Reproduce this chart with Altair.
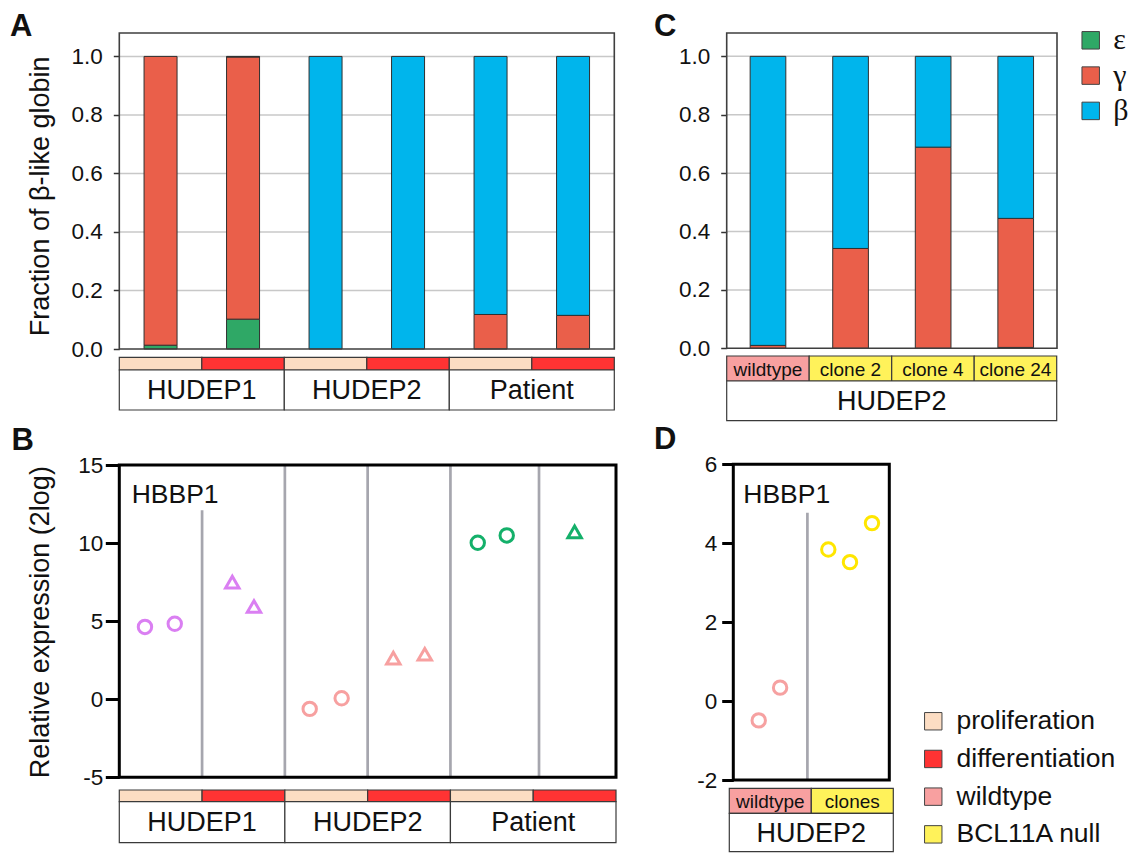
import altair as alt
import pandas as pd

# ------------------------------------------------------------------ data
globins = ["ε", "γ", "β"]
globin_colors = ["#2FA866", "#EA5F4A", "#00B5EC"]

cond_labels = ["proliferation", "differentiation", "wildtype", "BCL11A null"]
cond_colors = ["#FCDDC3", "#FF3333", "#F8A0A0", "#FFF25A"]

# Panel A : fraction of beta-like globin
a_samples = ["HUDEP1 prolif", "HUDEP1 diff", "HUDEP2 prolif", "HUDEP2 diff",
             "Patient prolif", "Patient diff"]
a_cond_of = ["proliferation", "differentiation"] * 3
a_groups = ["HUDEP1", "HUDEP2", "Patient"]
a_eps = [0.013, 0.102, 0.0, 0.0, 0.0, 0.0]
a_gam = [0.987, 0.896, 0.0, 0.0, 0.118, 0.115]
a_bet = [0.0, 0.002, 1.0, 1.0, 0.882, 0.885]
frac_ticks = [0.0, 0.2, 0.4, 0.6, 0.8, 1.0]
frac_grid = [0.2, 0.4, 0.6, 0.8, 1.0]

# Panel C : HUDEP2 clones
c_samples = ["wildtype", "clone 2", "clone 4", "clone 24"]
c_geno_of = ["wildtype", "BCL11A null", "BCL11A null", "BCL11A null"]
c_eps = [0.0, 0.0, 0.0, 0.003]
c_gam = [0.010, 0.342, 0.689, 0.442]
c_bet = [0.990, 0.658, 0.311, 0.555]
c_groups = ["HUDEP2"]

# Panel B : HBBP1 relative expression
b_line_colors = ["#DA7FF2", "#F7A0A0", "#14B06A"]
b_line = ["HUDEP1"] * 4 + ["HUDEP2"] * 4 + ["Patient"] * 3
b_cond = (["proliferation"] * 2 + ["differentiation"] * 2) * 2 + ["proliferation"] * 2 + ["differentiation"]
b_pos = [0.31, 0.67, 1.365, 1.627, 2.30, 2.686, 3.31, 3.69, 4.33, 4.68, 5.50]
b_expr = [4.63, 4.83, 7.50, 5.94, -0.62, 0.06, 2.63, 2.88, 10.02, 10.49, 10.72]
b_sep_pos = [1.0, 2.0, 3.0, 4.0, 5.07]
b_sep_top = [12.1, 15, 15, 15, 15]
b_ticks = [-5, 0, 5, 10, 15]

# Panel D : HBBP1 in HUDEP2 wildtype vs clones
d_geno = ["wildtype"] * 2 + ["BCL11A null"] * 3
d_pos = [0.326, 0.60, 1.218, 1.496, 1.778]
d_expr = [-0.49, 0.34, 3.84, 3.52, 4.51]
d_point_colors = ["#F6A1A1", "#FFE600"]
d_sep_pos = [0.95]
d_sep_top = [4.77]
d_ticks = [-2, 0, 2, 4, 6]
d_strip = ["wildtype", "clones"]
d_strip_geno = ["wildtype", "BCL11A null"]
d_groups = ["HUDEP2"]

# ------------------------------------------------------------------ style / geometry
FONT = "Liberation Sans"
INK = "#111111"
A = dict(x0=119.3, x1=614.3, ybot=349.0, ytop=33.0)
C = dict(x0=726.7, x1=1057.0, ybot=348.3, ytop=33.0)
B = dict(x0=119.3, x1=616.0, ybot=777.3, ytop=465.0)
D = dict(x0=733.3, x1=889.3, ybot=780.0, ytop=464.3)
FRAC_DOM = [0, 1.08]


def lin(dom, lo, hi):
    return alt.Scale(domain=dom, range=[lo, hi], nice=False, zero=False)


def stacked_df(samples, eps, gam, bet):
    rows = []
    for s, e, g, b in zip(samples, eps, gam, bet):
        for k, (name, v) in enumerate(zip(globins, (e, g, b))):
            if v > 0:
                rows.append({"sample": s, "globin": name, "k": k, "frac": v})
    return pd.DataFrame(rows)


def bar_layer(samples, df, g, inner, legend):
    xs = alt.Scale(domain=samples, range=[g["x0"], g["x1"]],
                   paddingInner=inner, paddingOuter=inner / 2)
    return alt.Chart(df).mark_bar(stroke="#303030", strokeWidth=1).encode(
        x=alt.X("sample:N", scale=xs, axis=None),
        y=alt.Y("frac:Q", scale=lin(FRAC_DOM, g["ybot"], g["ytop"]), axis=None, stack="zero"),
        color=alt.Color("globin:N", scale=alt.Scale(domain=globins, range=globin_colors),
                        legend=legend),
        order=alt.Order("k:Q", sort="ascending"),
    )


def grid_layer(g, n, vals):
    df = pd.DataFrame({"v": vals, "lo": [0] * len(vals), "hi": [n] * len(vals)})
    return alt.Chart(df).mark_rule(color="#C8C8C8", strokeWidth=1.5).encode(
        x=alt.X("lo:Q", scale=lin([0, n], g["x0"], g["x1"]), axis=None),
        x2="hi:Q",
        y=alt.Y("v:Q", scale=lin(FRAC_DOM, g["ybot"], g["ytop"]), axis=None),
    )


def frame_layer(g, n, ydom, axis, color, width):
    df = pd.DataFrame({"x0": [0], "x1": [n], "y0": [ydom[0]], "y1": [ydom[1]]})
    return alt.Chart(df).mark_rect(fill="transparent", stroke=color, strokeWidth=width).encode(
        x=alt.X("x0:Q", scale=lin([0, n], g["x0"], g["x1"]), axis=None),
        x2="x1:Q",
        y=alt.Y("y0:Q", scale=lin(ydom, g["ybot"], g["ytop"]), axis=axis),
        y2="y1:Q",
    )


def sep_layer(g, n, ydom, pos, top):
    df = pd.DataFrame({"p": pos, "top": top, "bot": [ydom[0]] * len(pos)})
    return alt.Chart(df).mark_rule(color="#A6A6AE", strokeWidth=2.7).encode(
        x=alt.X("p:Q", scale=lin([0, n], g["x0"], g["x1"]), axis=None),
        y=alt.Y("bot:Q", scale=lin(ydom, g["ybot"], g["ytop"]), axis=None),
        y2="top:Q",
    )


def strip_layers(cells, fills, x0, x1, y0, y1, labels=None, font_size=27, legend=None):
    data = {"cell": cells, "row": ["r"] * len(cells)}
    if fills is not None:
        data["fill"] = fills
    df = pd.DataFrame(data)
    xs = alt.Scale(domain=cells, range=[x0, x1], paddingInner=0, paddingOuter=0)
    ys = alt.Scale(domain=["r"], range=[y0, y1], paddingInner=0, paddingOuter=0)
    if fills is not None:
        col = alt.Color("fill:N", scale=alt.Scale(domain=cond_labels, range=cond_colors),
                        legend=legend)
    else:
        col = alt.value("white")
    rect = alt.Chart(df).mark_rect(stroke="#3A3A3A", strokeWidth=1.2).encode(
        x=alt.X("cell:N", scale=xs, axis=None),
        y=alt.Y("row:N", scale=ys, axis=None),
        color=col,
    )
    out = [rect]
    if labels:
        df2 = df.assign(label=labels)
        out.append(alt.Chart(df2).mark_text(font=FONT, fontSize=font_size, color=INK,
                                            baseline="middle", dy=1).encode(
            x=alt.X("cell:N", scale=xs, axis=None),
            y=alt.Y("row:N", scale=ys, axis=None),
            text="label:N",
        ))
    return out


def text_layer(txt, x, y, size, weight="normal", align="left"):
    return alt.Chart(pd.DataFrame({"t": [txt]})).mark_text(
        font=FONT, fontSize=size, fontWeight=weight, color=INK, align=align,
        baseline="alphabetic").encode(x=alt.value(x), y=alt.value(y), text="t:N")


axis_common = dict(orient="left", grid=False, domain=False, labelFont=FONT,
                   labelFontSize=22.5, labelColor=INK, titleFont=FONT, titleFontSize=27,
                   titleFontWeight="normal", titleColor=INK, titleAngle=270,
                   titleAlign="center", titleBaseline="alphabetic")

leg_globin = alt.Legend(orient="none", legendX=1075.7, legendY=25.3, title=None,
                        symbolType="square", symbolSize=306, symbolStrokeColor="#444",
                        symbolStrokeWidth=1, symbolOpacity=1, labelFont="Liberation Serif",
                        labelFontSize=30, labelColor=INK, labelOffset=7.5,
                        rowPadding=5.3, padding=0)
leg_cond = alt.Legend(orient="none", legendX=920, legendY=708, title=None,
                      symbolType="square", symbolSize=303, symbolStrokeColor="#444",
                      symbolStrokeWidth=1, symbolOpacity=1, labelFont=FONT,
                      labelFontSize=26.5, labelColor=INK, labelOffset=10,
                      rowPadding=10.7, padding=0, labelLimit=300)

layers = []

# ---------------- Panel A
layers.append(grid_layer(A, 6, frac_grid))
layers.append(bar_layer(a_samples, stacked_df(a_samples, a_eps, a_gam, a_bet), A, 0.6, leg_globin))
layers.append(frame_layer(A, 6, FRAC_DOM, alt.Axis(
    offset=-A["x0"], values=frac_ticks, format=".1f", tickSize=6, tickWidth=1.5,
    tickColor="#333", labelPadding=11, title="Fraction of β-like globin",
    titleX=-71, titleY=195.8, **axis_common), "#3F3F3F", 1.6))
layers += strip_layers(a_samples, a_cond_of, A["x0"], A["x1"], 357.3, 370, legend=leg_cond)
layers += strip_layers(a_groups, None, A["x0"], A["x1"], 370, 410, labels=a_groups)

# ---------------- Panel C
layers.append(grid_layer(C, 4, frac_grid))
layers.append(bar_layer(c_samples, stacked_df(c_samples, c_eps, c_gam, c_bet), C, 0.568, None))
layers.append(frame_layer(C, 4, FRAC_DOM, alt.Axis(
    offset=-C["x0"], values=frac_ticks, format=".1f", tickSize=6, tickWidth=1.5,
    tickColor="#333", labelPadding=11, title=None, **axis_common), "#3F3F3F", 1.6))
layers += strip_layers(c_samples, c_geno_of, 726.7, 1056.7, 356, 381, labels=c_samples, font_size=19)
layers += strip_layers(c_groups, None, 726.7, 1056.7, 381, 420.7, labels=c_groups)

# ---------------- Panel B
B_DOM = [-5, 15]
layers.append(sep_layer(B, 6, B_DOM, b_sep_pos, b_sep_top))
layers.append(frame_layer(B, 6, B_DOM, alt.Axis(
    offset=-B["x0"], values=b_ticks, labelExpr="'' + datum.value", tickSize=14,
    tickWidth=3, tickColor="black", labelPadding=2.5,
    title="Relative expression (2log)", titleX=-70.8, titleY=621.7, **axis_common),
    "black", 3))
dfB = pd.DataFrame({"pos": b_pos, "val": b_expr, "line": b_line, "cond": b_cond})
layers.append(alt.Chart(dfB).mark_point(filled=False, size=180, strokeWidth=3, opacity=1).encode(
    x=alt.X("pos:Q", scale=lin([0, 6], B["x0"], B["x1"]), axis=None),
    y=alt.Y("val:Q", scale=lin(B_DOM, B["ybot"], B["ytop"]), axis=None),
    color=alt.Color("line:N", scale=alt.Scale(domain=a_groups, range=b_line_colors), legend=None),
    shape=alt.Shape("cond:N", scale=alt.Scale(domain=["proliferation", "differentiation"],
                                              range=["circle", "triangle-up"]), legend=None),
))
layers += strip_layers(a_samples, a_cond_of, B["x0"], B["x1"], 790, 801.7)
layers += strip_layers(a_groups, None, B["x0"], B["x1"], 801.7, 842.7, labels=a_groups)
layers.append(text_layer("HBBP1", 131.7, 502.7, 26.5))

# ---------------- Panel D
D_DOM = [-2, 6]
layers.append(sep_layer(D, 2, D_DOM, d_sep_pos, d_sep_top))
layers.append(frame_layer(D, 2, D_DOM, alt.Axis(
    offset=-D["x0"], values=d_ticks, labelExpr="'' + datum.value", tickSize=11.6,
    tickWidth=3, tickColor="black", labelPadding=5, title=None, **axis_common),
    "black", 3))
dfD = pd.DataFrame({"pos": d_pos, "val": d_expr, "geno": d_geno})
layers.append(alt.Chart(dfD).mark_point(filled=False, size=180, strokeWidth=3, opacity=1,
                                        shape="circle").encode(
    x=alt.X("pos:Q", scale=lin([0, 2], D["x0"], D["x1"]), axis=None),
    y=alt.Y("val:Q", scale=lin(D_DOM, D["ybot"], D["ytop"]), axis=None),
    color=alt.Color("geno:N", scale=alt.Scale(domain=["wildtype", "BCL11A null"],
                                              range=d_point_colors), legend=None),
))
layers += strip_layers(d_strip, d_strip_geno, 729.3, 893.3, 788.3, 813.3, labels=d_strip, font_size=19)
layers += strip_layers(d_groups, None, 729.3, 893.3, 813.3, 851.7, labels=d_groups)
layers.append(text_layer("HBBP1", 743.3, 502.7, 26.5))

# ---------------- panel letters
layers.append(text_layer("A", 10, 36, 31, weight="bold"))
layers.append(text_layer("B", 11.5, 450, 31, weight="bold"))
layers.append(text_layer("C", 654, 36, 31, weight="bold"))
layers.append(text_layer("D", 654, 449, 31, weight="bold"))

chart = alt.layer(*layers).resolve_scale(
    x="independent", y="independent", color="independent", shape="independent"
).properties(
    width=1130, height=853, padding=0, background="white",
    autosize=alt.AutoSizeParams(type="none"),
).configure_view(stroke="transparent")

chart.save("out.html", embed_options={"renderer": "svg", "actions": False})
